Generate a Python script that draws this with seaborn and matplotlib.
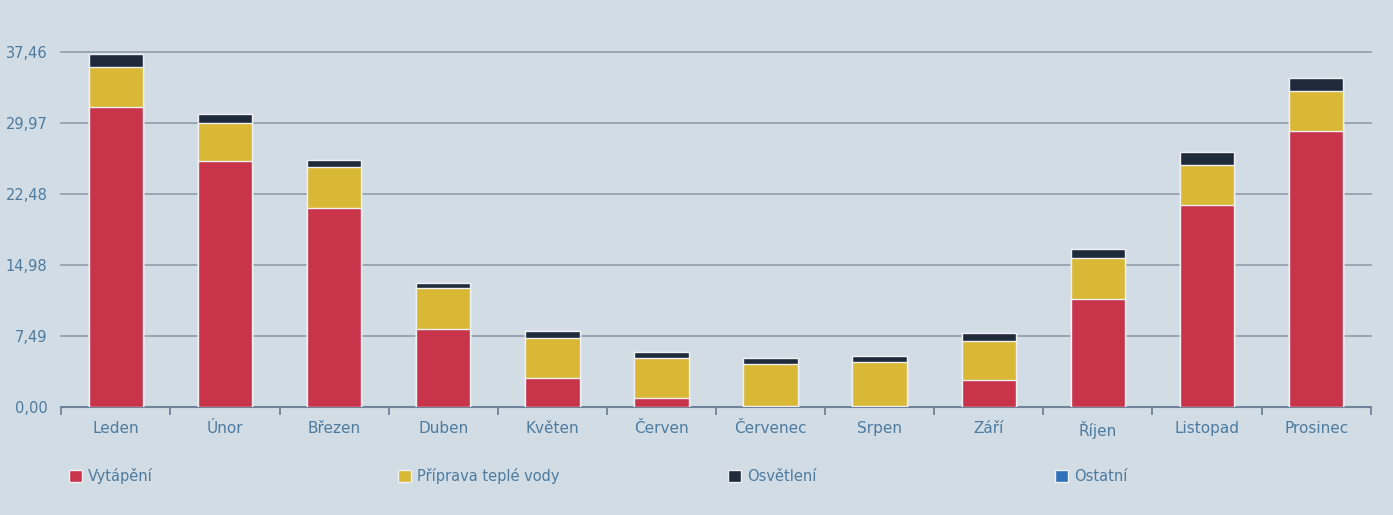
import matplotlib.pyplot as plt
import matplotlib.patches as mpatches
from matplotlib.ticker import FixedLocator
import numpy as np
import pandas as pd
import seaborn as sns

# Data
months = ['Leden', 'Únor', 'Březen', 'Duben', 'Květen', 'Červen',
          'Červenec', 'Srpen', 'Září', 'Říjen', 'Listopad', 'Prosinec']
vytapeni = [31.6, 25.9, 21.0, 8.2, 3.0, 0.9, 0.1, 0.1, 2.8, 11.4, 21.3, 29.1]
voda = [4.2, 4.0, 4.3, 4.3, 4.3, 4.2, 4.4, 4.6, 4.1, 4.3, 4.2, 4.2]
osvetleni = [1.4, 1.0, 0.7, 0.6, 0.7, 0.7, 0.7, 0.7, 0.9, 0.9, 1.4, 1.4]
ostatni = [0.0] * 12
series_names = ['Vytápění', 'Příprava teplé vody', 'Osvětlení', 'Ostatní']
colors = ['#c8344a', '#d8b834', '#1f2b3a', '#2f72b8']
yticks = [0.0, 7.49, 14.98, 22.48, 29.97, 37.46]

df = pd.DataFrame({'month': months, 'Vytápění': vytapeni,
                   'Příprava teplé vody': voda, 'Osvětlení': osvetleni,
                   'Ostatní': ostatni})
cum = df[series_names].cumsum(axis=1)

bg = '#d2dce4'
text_col = '#4d7ba0'

fig, ax = plt.subplots(figsize=(13.93, 5.15), dpi=100)
fig.patch.set_facecolor(bg)
ax.set_facecolor(bg)
fig.subplots_adjust(left=0.044, right=0.984, top=0.90, bottom=0.21)

# stacked bars: draw the cumulative totals from top to bottom
for name, col in zip(reversed(series_names), reversed(colors)):
    sns.barplot(x=df['month'], y=cum[name], color=col, width=0.5,
                saturation=1, edgecolor='#eef0f4', linewidth=1.0, ax=ax,
                zorder=3, order=months)

ax.set_ylim(0, 37.46)
ax.set_xlim(-0.5, 11.5)
ax.set_yticks(yticks)
ax.set_yticklabels([f'{v:.2f}'.replace('.', ',') for v in yticks])
ax.grid(axis='y', color='#8e9dab', linewidth=1.2, zorder=0, clip_on=False)
ax.set_axisbelow(True)
ax.set_xlabel('')
ax.set_ylabel('')

for s in ['top', 'right', 'left']:
    ax.spines[s].set_visible(False)
ax.spines['bottom'].set_color('#6f8499')
ax.spines['bottom'].set_linewidth(1.5)

ax.tick_params(axis='y', length=0, labelsize=10.5, labelcolor=text_col, pad=10)
ax.tick_params(axis='x', which='major', length=0, labelsize=11,
               labelcolor=text_col, pad=10)
ax.xaxis.set_minor_locator(FixedLocator(np.arange(-0.5, 12, 1)))
ax.tick_params(axis='x', which='minor', length=6, color='#6f8499', width=1.3)

# legend spread along the bottom
leg_x = [0.040, 0.276, 0.513, 0.748]
for name, col, x in zip(series_names, colors, leg_x):
    h = mpatches.Patch(facecolor=col, edgecolor='#eef0f4')
    fig.legend(handles=[h], labels=[name], loc='center left',
               bbox_to_anchor=(x, 0.075), frameon=False, fontsize=10.5,
               labelcolor=text_col, handlelength=0.9, handleheight=0.9,
               handletextpad=0.4)

fig.savefig('out.png', dpi=100, facecolor=bg)
